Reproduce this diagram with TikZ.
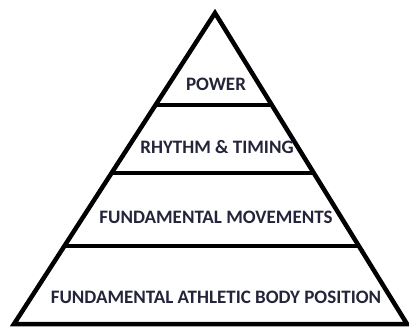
\documentclass[tikz,border=0pt]{standalone}
\usepackage{fontspec}
\setmainfont{Carlito}
\definecolor{txt}{HTML}{24243A}
\begin{document}
\begin{tikzpicture}[x=1pt,y=-1pt,
  edge/.style={line width=4.5pt, black},
  lbl/.style={text=txt, font=\bfseries\fontsize{19}{21}\selectfont, inner sep=0pt}]
\useasboundingbox (0,0) rectangle (409,328);
\coordinate (apex) at (215,13);
\coordinate (bl) at (14,324);
\coordinate (br) at (407,324);
\draw[edge, line join=miter] (bl) -- (apex) -- (br) -- cycle;
\path (apex) -- (bl) coordinate[pos=0.2958] (l1) coordinate[pos=0.5145] (l2) coordinate[pos=0.7491] (l3);
\path (apex) -- (br) coordinate[pos=0.2958] (r1) coordinate[pos=0.5145] (r2) coordinate[pos=0.7491] (r3);
\draw[edge] (l1) -- (r1);
\draw[edge] (l2) -- (r2);
\draw[edge] (l3) -- (r3);
\node[lbl] (power) at (216,84) {POWER};
\node[lbl] (rhythm) at (217,147) {RHYTHM \& TIMING};
\node[lbl] (fm) at (216,217) {FUNDAMENTAL MOVEMENTS};
\node[lbl] (fabp) at (216,297) {FUNDAMENTAL ATHLETIC BODY POSITION};
\end{tikzpicture}
\end{document}
